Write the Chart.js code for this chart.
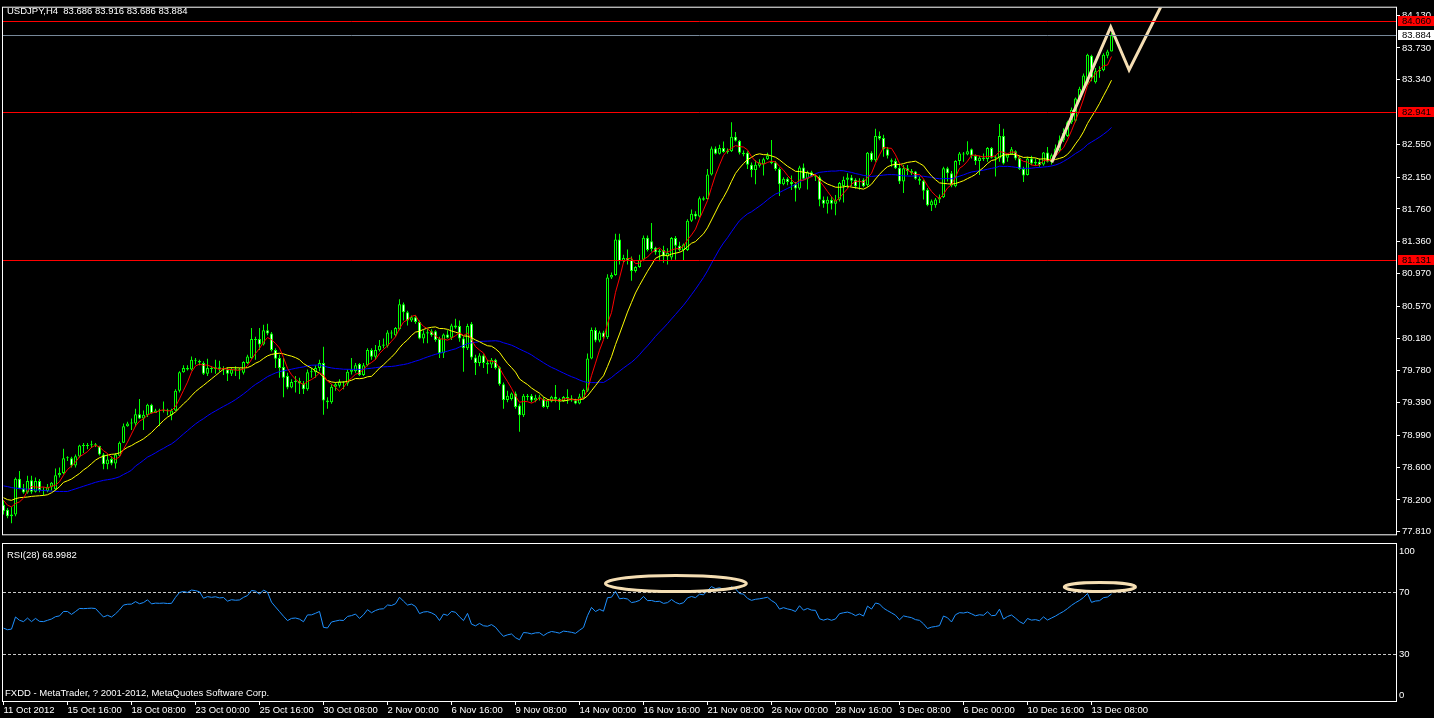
<!DOCTYPE html>
<html>
<head>
<meta charset="utf-8">
<title>USDJPY,H4</title>
<script src="https://cdn.jsdelivr.net/npm/chart.js@4.4.1/dist/chart.umd.min.js"></script>
<style>
  html, body { margin: 0; padding: 0; background: #000; overflow: hidden; }
  #wrap { position: relative; width: 1434px; height: 718px; }
  canvas { position: absolute; left: 0; }
  #priceChart { top: 0; }
  #rsiChart { top: 542px; }
</style>
</head>
<body>
<div id="wrap">
  <canvas id="priceChart" width="1434" height="542"></canvas>
  <canvas id="rsiChart" width="1434" height="176"></canvas>
</div>
<script>
// H4 bars, first bar = 11 Oct 2012 00:00
const opens = [
  78.14, 78.08, 78.00, 78.02, 78.46, 78.34, 78.29, 78.44, 78.30, 78.43,
  78.32, 78.31, 78.36, 78.33, 78.50, 78.53, 78.71, 78.71, 78.62, 78.73,
  78.865, 78.86, 78.87, 78.88, 78.86, 78.755, 78.635, 78.70, 78.645, 78.74,
  78.90, 79.10, 79.135, 79.135, 79.247, 79.195, 79.235, 79.363, 79.263, 79.295,
  79.29, 79.30, 79.235, 79.295, 79.535, 79.763, 79.815, 79.795, 79.915, 79.90,
  79.875, 79.743, 79.815, 79.80, 79.823, 79.80, 79.795, 79.743, 79.795, 79.785,
  79.755, 79.875, 79.935, 80.167, 80.167, 80.10, 80.275, 80.235, 80.035, 79.935,
  79.827, 79.715, 79.575, 79.643, 79.655, 79.625, 79.555, 79.763, 79.763, 79.815,
  79.875, 79.415, 79.395, 79.583, 79.595, 79.643, 79.623, 79.767, 79.775, 79.863,
  79.727, 79.847, 80.035, 79.95, 80.03, 80.087, 80.087, 80.247, 80.215, 80.287,
  80.595, 80.495, 80.395, 80.435, 80.375, 80.175, 80.235, 80.263, 80.263, 80.167,
  79.995, 80.223, 80.183, 80.335, 80.327, 80.175, 80.055, 80.355, 79.943, 79.875,
  79.967, 79.875, 79.855, 79.915, 79.823, 79.615, 79.423, 79.435, 79.503, 79.355,
  79.235, 79.475, 79.475, 79.415, 79.45, 79.435, 79.335, 79.403, 79.463, 79.435,
  79.41, 79.46, 79.44, 79.417, 79.38, 79.44, 79.535, 79.931, 80.28, 80.149,
  80.248, 80.189, 80.921, 80.953, 81.385, 81.119, 81.159, 81.139, 81.0, 81.048,
  81.139, 81.408, 81.365, 81.286, 81.23, 81.258, 81.179, 81.167, 81.404, 81.31,
  81.258, 81.258, 81.614, 81.701, 81.666, 81.892, 81.88, 82.181, 82.498, 82.434,
  82.505, 82.458, 82.466, 82.644, 82.593, 82.446, 82.446, 82.299, 82.236, 82.288,
  82.307, 82.367, 82.335, 82.327, 82.248, 82.062, 82.129, 82.09, 82.062, 82.01,
  82.268, 82.129, 82.208, 82.157, 82.149, 81.872, 81.824, 81.872, 81.824, 81.872,
  82.04, 82.116, 82.144, 82.116, 82.09, 82.116, 82.05, 82.446, 82.357, 82.651,
  82.627, 82.49, 82.357, 82.345, 82.265, 82.096, 82.257, 82.225, 82.217, 82.128,
  82.104, 81.995, 81.806, 81.806, 81.875, 81.903, 82.257, 82.197, 82.036, 82.345,
  82.438, 82.426, 82.49, 82.41, 82.345, 82.378, 82.37, 82.506, 82.386, 82.378,
  82.651, 82.386, 82.426, 82.466, 82.386, 82.249, 82.176, 82.378, 82.317, 82.337,
  82.305, 82.45, 82.337, 82.418, 82.478, 82.599, 82.651, 82.82, 82.84, 83.094,
  83.215, 83.303, 83.633, 83.311, 83.444, 83.456, 83.633, 83.686
];
const highs = [
  78.20, 78.10, 78.115, 78.475, 78.555, 78.395, 78.495, 78.495, 78.475, 78.455,
  78.355, 78.395, 78.42, 78.583, 78.595, 78.827, 78.735, 78.727, 78.755, 78.875,
  78.895, 78.895, 78.923, 78.895, 78.863, 78.775, 78.755, 78.735, 78.775, 78.915,
  79.135, 79.155, 79.195, 79.315, 79.435, 79.295, 79.375, 79.375, 79.315, 79.315,
  79.403, 79.315, 79.315, 79.555, 79.775, 79.847, 79.847, 79.955, 79.935, 79.915,
  79.895, 79.927, 79.835, 79.915, 79.903, 79.835, 79.823, 79.823, 79.835, 79.815,
  79.895, 79.975, 80.303, 80.195, 80.303, 80.343, 80.355, 80.255, 80.055, 79.975,
  79.935, 79.755, 79.675, 79.715, 79.695, 79.655, 79.795, 79.815, 79.847, 79.915,
  80.075, 79.455, 79.615, 79.635, 79.675, 79.655, 79.795, 79.935, 79.875, 79.875,
  79.875, 80.055, 80.055, 80.095, 80.155, 80.175, 80.275, 80.275, 80.315, 80.655,
  80.615, 80.515, 80.455, 80.455, 80.395, 80.275, 80.295, 80.287, 80.275, 80.195,
  80.235, 80.275, 80.355, 80.415, 80.395, 80.195, 80.355, 80.375, 79.975, 79.995,
  79.983, 79.915, 79.935, 79.927, 79.835, 79.635, 79.535, 79.515, 79.527, 79.375,
  79.495, 79.495, 79.495, 79.487, 79.487, 79.455, 79.435, 79.475, 79.607, 79.45,
  79.47, 79.555, 79.48, 79.436, 79.50, 79.56, 79.991, 80.308, 80.308, 80.268,
  80.27, 80.961, 80.981, 81.456, 81.456, 81.199, 81.265, 81.179, 81.06, 81.199,
  81.436, 81.436, 81.587, 81.298, 81.27, 81.31, 81.278, 81.416, 81.428, 81.357,
  81.337, 81.634, 81.753, 81.733, 81.911, 81.911, 82.248, 82.525, 82.525, 82.545,
  82.585, 82.498, 82.82, 82.70, 82.604, 82.474, 82.466, 82.327, 82.355, 82.367,
  82.387, 82.446, 82.604, 82.347, 82.268, 82.149, 82.149, 82.168, 82.09, 82.288,
  82.315, 82.228, 82.228, 82.17, 82.169, 81.911, 81.911, 81.911, 81.931, 82.09,
  82.156, 82.197, 82.176, 82.136, 82.136, 82.136, 82.458, 82.466, 82.74, 82.708,
  82.667, 82.518, 82.378, 82.378, 82.317, 82.297, 82.297, 82.249, 82.225, 82.156,
  82.116, 82.015, 81.875, 81.895, 81.935, 82.277, 82.277, 82.225, 82.357, 82.458,
  82.458, 82.587, 82.498, 82.426, 82.41, 82.438, 82.518, 82.518, 82.418, 82.80,
  82.74, 82.438, 82.518, 82.478, 82.41, 82.277, 82.398, 82.41, 82.378, 82.378,
  82.458, 82.518, 82.438, 82.547, 82.659, 82.748, 82.84, 83.001, 83.122, 83.255,
  83.416, 83.658, 83.645, 83.485, 83.505, 83.666, 83.706, 83.916
];
const lows = [
  78.02, 77.975, 77.915, 78.00, 78.33, 78.275, 78.275, 78.275, 78.29, 78.295,
  78.255, 78.295, 78.315, 78.315, 78.475, 78.515, 78.675, 78.595, 78.595, 78.715,
  78.775, 78.82, 78.835, 78.847, 78.743, 78.575, 78.575, 78.623, 78.583, 78.727,
  78.895, 79.095, 79.055, 79.095, 79.19, 79.055, 79.215, 79.255, 79.263, 79.103,
  79.27, 79.235, 79.175, 79.287, 79.515, 79.755, 79.783, 79.783, 79.855, 79.847,
  79.727, 79.715, 79.755, 79.743, 79.767, 79.727, 79.655, 79.715, 79.715, 79.675,
  79.735, 79.863, 79.927, 79.915, 80.035, 80.09, 80.215, 80.015, 79.815, 79.695,
  79.455, 79.555, 79.565, 79.515, 79.495, 79.495, 79.535, 79.695, 79.695, 79.775,
  79.243, 79.315, 79.375, 79.535, 79.575, 79.555, 79.595, 79.735, 79.755, 79.715,
  79.715, 79.835, 79.915, 79.915, 80.015, 80.055, 80.063, 80.175, 80.195, 80.275,
  80.395, 80.335, 80.375, 80.355, 80.165, 80.115, 80.115, 80.195, 80.135, 79.935,
  79.935, 80.175, 80.155, 80.295, 80.135, 79.767, 80.035, 79.915, 79.727, 79.835,
  79.815, 79.743, 79.815, 79.795, 79.595, 79.315, 79.395, 79.415, 79.315, 79.035,
  79.215, 79.415, 79.395, 79.395, 79.415, 79.327, 79.315, 79.395, 79.395, 79.30,
  79.40, 79.377, 79.40, 79.37, 79.37, 79.43, 79.52, 79.92, 80.129, 80.129,
  80.17, 80.169, 80.902, 80.941, 81.08, 81.10, 81.08, 80.882, 80.981, 81.04,
  81.119, 81.238, 81.238, 81.199, 81.12, 81.10, 81.08, 81.139, 81.139, 81.238,
  81.127, 81.246, 81.60, 81.634, 81.654, 81.86, 81.872, 82.169, 82.426, 82.426,
  82.446, 82.434, 82.458, 82.585, 82.426, 82.406, 82.248, 82.149, 82.062, 82.268,
  82.168, 82.36, 82.307, 82.228, 81.919, 82.05, 82.05, 81.991, 81.852, 81.991,
  82.117, 81.999, 82.15, 82.101, 81.793, 81.773, 81.705, 81.753, 81.682, 81.852,
  81.84, 82.015, 82.036, 82.007, 81.995, 82.024, 82.03, 82.337, 82.337, 82.599,
  82.398, 82.378, 82.277, 82.249, 82.064, 81.955, 82.176, 82.176, 82.116, 82.056,
  81.875, 81.794, 81.734, 81.774, 81.834, 81.895, 82.096, 82.024, 82.024, 82.297,
  82.337, 82.418, 82.378, 82.297, 82.176, 82.345, 82.337, 82.378, 82.156, 82.337,
  82.305, 82.337, 82.42, 82.357, 82.237, 82.088, 82.168, 82.297, 82.289, 82.277,
  82.289, 82.329, 82.305, 82.398, 82.458, 82.579, 82.639, 82.80, 82.82, 83.07,
  83.191, 83.283, 83.323, 83.295, 83.364, 83.444, 83.605, 83.686
];
const closes = [
  78.06, 78.00, 78.02, 78.46, 78.34, 78.29, 78.43, 78.30, 78.43, 78.32,
  78.31, 78.36, 78.41, 78.50, 78.53, 78.71, 78.71, 78.62, 78.735, 78.865,
  78.86, 78.87, 78.88, 78.87, 78.755, 78.635, 78.695, 78.645, 78.755, 78.90,
  79.10, 79.135, 79.14, 79.247, 79.195, 79.243, 79.363, 79.263, 79.295, 79.29,
  79.30, 79.29, 79.295, 79.535, 79.763, 79.815, 79.795, 79.915, 79.903, 79.88,
  79.743, 79.815, 79.80, 79.823, 79.80, 79.815, 79.743, 79.795, 79.785, 79.795,
  79.887, 79.955, 80.167, 80.155, 80.10, 80.275, 80.235, 80.035, 79.927, 79.815,
  79.695, 79.575, 79.643, 79.655, 79.625, 79.555, 79.763, 79.765, 79.815, 79.875,
  79.415, 79.395, 79.583, 79.615, 79.643, 79.635, 79.767, 79.795, 79.847, 79.727,
  79.847, 80.035, 79.95, 80.035, 80.087, 80.10, 80.247, 80.235, 80.303, 80.595,
  80.495, 80.395, 80.435, 80.375, 80.175, 80.235, 80.25, 80.215, 80.155, 79.995,
  80.223, 80.183, 80.335, 80.31, 80.175, 80.055, 80.327, 79.943, 79.875, 79.967,
  79.875, 79.855, 79.915, 79.815, 79.615, 79.423, 79.475, 79.503, 79.335, 79.235,
  79.475, 79.46, 79.415, 79.45, 79.455, 79.335, 79.415, 79.463, 79.435, 79.40,
  79.46, 79.44, 79.417, 79.38, 79.464, 79.543, 79.931, 80.28, 80.149, 80.248,
  80.189, 80.921, 80.953, 81.385, 81.119, 81.159, 81.13, 81.001, 81.048, 81.139,
  81.408, 81.258, 81.27, 81.23, 81.25, 81.179, 81.22, 81.404, 81.31, 81.258,
  81.325, 81.614, 81.701, 81.666, 81.892, 81.872, 82.181, 82.498, 82.434, 82.505,
  82.458, 82.474, 82.644, 82.593, 82.446, 82.43, 82.299, 82.236, 82.299, 82.327,
  82.367, 82.414, 82.319, 82.248, 82.062, 82.129, 82.09, 82.062, 82.01, 82.268,
  82.129, 82.208, 82.157, 82.149, 81.872, 81.824, 81.872, 81.824, 81.872, 82.078,
  82.116, 82.144, 82.104, 82.036, 82.10, 82.036, 82.446, 82.357, 82.651, 82.619,
  82.49, 82.41, 82.337, 82.257, 82.096, 82.257, 82.225, 82.197, 82.128, 82.104,
  81.983, 81.806, 81.854, 81.875, 81.903, 82.257, 82.197, 82.048, 82.345, 82.438,
  82.426, 82.466, 82.41, 82.345, 82.386, 82.37, 82.506, 82.386, 82.398, 82.651,
  82.317, 82.426, 82.49, 82.378, 82.249, 82.168, 82.378, 82.317, 82.337, 82.297,
  82.45, 82.337, 82.418, 82.498, 82.599, 82.692, 82.82, 82.973, 83.11, 83.231,
  83.392, 83.645, 83.364, 83.444, 83.464, 83.645, 83.686, 83.884
];

// one label every 16 bars
const dateLabels = ['11 Oct 2012', '15 Oct 16:00', '18 Oct 08:00', '23 Oct 00:00', '25 Oct 16:00',
  '30 Oct 08:00', '2 Nov 00:00', '6 Nov 16:00', '9 Nov 08:00', '14 Nov 00:00', '16 Nov 16:00',
  '21 Nov 08:00', '26 Nov 00:00', '28 Nov 16:00', '3 Dec 08:00', '6 Dec 00:00', '10 Dec 16:00', '13 Dec 08:00'];
const priceTicks = [84.130, 83.730, 83.340, 82.550, 82.150, 81.760, 81.360, 80.970,
  80.570, 80.180, 79.780, 79.390, 78.990, 78.600, 78.200, 77.810];
const redLevels = [84.060, 82.941, 81.131];
const lastPrice = 83.884;
const rsiTicks = [100, 70, 30, 0];
const rsiLevels = [70, 30];

// MA values on the first bars (their history is off the chart)
const ma5Start = [78.195, 78.135, 78.115, 78.155];
const ma13Start = [78.227, 78.203, 78.195, 78.215, 78.227, 78.231, 78.235, 78.243, 78.247, 78.251, 78.255, 78.263];
const ma34Start = [78.371, 78.363, 78.351, 78.343, 78.339, 78.335, 78.331, 78.327, 78.323, 78.319,
  78.315, 78.311, 78.307, 78.303, 78.303, 78.303, 78.303, 78.319, 78.335, 78.351,
  78.367, 78.383, 78.399, 78.415, 78.427, 78.439, 78.447, 78.455, 78.467, 78.483,
  78.511, 78.535, 78.563];
// RSI(28) averages before the first bar
const rsiStartGain = 0.0465;
const rsiStartLoss = 0.053;

// drawn objects
const zigzagBars = [262.05, 276.8, 281.4, 290.2];
const zigzagPrices = [82.33, 83.986, 83.46, 84.318];
const ellipseBars = [168.1, 274.1];
const ellipseRsi = [75.7, 73.4];
const ellipseBarRadius = [17.6, 8.9];
const ellipseRsiRadius = [5.2, 2.9];

const FONT = '"Liberation Sans", Arial, sans-serif';
const WHEAT = '#f5deb3';
Chart.defaults.font.family = FONT;
Chart.defaults.font.size = 9.5;

function sma(period, start) {
  return closes.map((c, i) => {
    if (i < period - 1) return start[i];
    let s = 0;
    for (let k = i - period + 1; k <= i; k++) s += closes[k];
    return s / period;
  });
}

function rsi(period) {
  let g = rsiStartGain, l = rsiStartLoss;
  return closes.map((c, i) => {
    if (i > 0) {
      const d = c - closes[i - 1];
      g = (g * (period - 1) + Math.max(d, 0)) / period;
      l = (l * (period - 1) + Math.max(-d, 0)) / period;
    }
    return 100 * g / (g + l);
  });
}

const xy = arr => arr.map((v, i) => ({x: i, y: v}));
const dateTickBars = dateLabels.map((_, k) => k * 16);
const last = closes.length - 1;
const header = 'USDJPY,H4  ' + [opens[last], highs[last], lows[last], closes[last]].map(v => v.toFixed(3)).join(' ');

// 4 px per bar, bar centres on half pixels
const xRange = {type: 'linear', min: -0.125, max: 348.125, offset: false};

const priceOverlay = {
  id: 'priceOverlay',
  afterDatasetsDraw(chart) {
    const {ctx, chartArea: a, scales: {y}} = chart;
    ctx.save();
    ctx.lineWidth = 1;
    ctx.strokeStyle = '#778899';
    let py = Math.round(y.getPixelForValue(lastPrice)) + 0.5;
    ctx.beginPath(); ctx.moveTo(a.left, py); ctx.lineTo(a.right, py); ctx.stroke();
    ctx.strokeStyle = '#ff0000';
    redLevels.forEach(v => {
      const p = Math.round(y.getPixelForValue(v)) + 0.5;
      ctx.beginPath(); ctx.moveTo(a.left, p); ctx.lineTo(a.right, p); ctx.stroke();
    });
    ctx.restore();
  },
  afterDraw(chart) {
    const {ctx, chartArea: a, scales: {y}} = chart;
    ctx.save();
    ctx.font = '9.5px ' + FONT;
    ctx.textBaseline = 'middle';
    const box = (v, bg) => {
      const p = Math.round(y.getPixelForValue(v));
      ctx.fillStyle = bg;
      ctx.fillRect(a.right + 2, p - 5, 36, 10);
      ctx.fillStyle = '#000';
      ctx.fillText(v.toFixed(3), a.right + 6, p + 0.5);
    };
    redLevels.forEach(v => box(v, '#ff0000'));
    box(lastPrice, '#ffffff');
    ctx.strokeStyle = '#ffffff';
    ctx.lineWidth = 1;
    ctx.strokeRect(a.left - 0.5, a.top - 0.5, a.right - a.left + 1, a.bottom - a.top + 1);
    ctx.fillStyle = '#ffffff';
    ctx.fillText(header, 7, 11);
    ctx.restore();
  }
};

new Chart(document.getElementById('priceChart'), {
  type: 'bar',
  data: {
    datasets: [
      {type: 'line', data: zigzagBars.map((b, k) => ({x: b, y: zigzagPrices[k]})),
        borderColor: WHEAT, borderWidth: 3, pointRadius: 0, order: 0},
      {type: 'line', data: xy(sma(5, ma5Start)), borderColor: '#ff0000', borderWidth: 1, pointRadius: 0, order: 1},
      {type: 'line', data: xy(sma(13, ma13Start)), borderColor: '#ffff00', borderWidth: 1, pointRadius: 0, order: 2},
      {type: 'line', data: xy(sma(34, ma34Start)), borderColor: '#0000ff', borderWidth: 1, pointRadius: 0, order: 3},
      {type: 'bar', data: closes.map((c, i) => ({x: i, y: [opens[i], c]})),
        backgroundColor: closes.map((c, i) => c >= opens[i] ? '#000000' : '#ffffff'),
        borderColor: '#00ff00', borderWidth: 1, borderSkipped: false, barThickness: 3, maxBarThickness: 3,
        grouped: false, minBarLength: 1, inflateAmount: 0, order: 4},
      {type: 'bar', data: lows.map((l, i) => ({x: i, y: [l, highs[i]]})),
        backgroundColor: '#00ff00', borderWidth: 0, barThickness: 1, maxBarThickness: 1,
        grouped: false, inflateAmount: 0, order: 5}
    ]
  },
  options: {
    responsive: false,
    devicePixelRatio: 1,
    animation: false,
    events: [],
    layout: {padding: {left: 3, top: 3, right: 0, bottom: 1}},
    plugins: {legend: {display: false}, tooltip: {enabled: false}},
    scales: {
      x: {...xRange, display: false, grid: {offset: false}},
      y: {
        position: 'right', min: 77.779, max: 84.222,
        afterBuildTicks: s => { s.ticks = priceTicks.map(v => ({value: v})); },
        afterFit: s => { s.width = 38; },
        grid: {drawOnChartArea: false, drawTicks: true, tickLength: 4, color: '#ffffff'},
        border: {display: false},
        ticks: {color: '#ffffff', padding: 2, autoSkip: false, callback: v => v.toFixed(3)}
      }
    }
  },
  plugins: [priceOverlay]
});

const rsiOverlay = {
  id: 'rsiOverlay',
  beforeDatasetsDraw(chart) {
    const {ctx, chartArea: a, scales: {y}} = chart;
    ctx.save();
    ctx.strokeStyle = '#c8c8c8';
    ctx.lineWidth = 1;
    ctx.setLineDash([3, 2]);
    rsiLevels.forEach(v => {
      const p = Math.round(y.getPixelForValue(v)) + 0.5;
      ctx.beginPath(); ctx.moveTo(a.left, p); ctx.lineTo(a.right, p); ctx.stroke();
    });
    ctx.restore();
  },
  afterDraw(chart) {
    const {ctx, chartArea: a, scales: {x, y}} = chart;
    ctx.save();
    ctx.strokeStyle = WHEAT;
    ctx.lineWidth = 3;
    ellipseBars.forEach((b, k) => {
      const cx = x.getPixelForValue(b), cy = y.getPixelForValue(ellipseRsi[k]);
      const rx = x.getPixelForValue(b + ellipseBarRadius[k]) - cx;
      const ry = cy - y.getPixelForValue(ellipseRsi[k] + ellipseRsiRadius[k]);
      ctx.beginPath(); ctx.ellipse(cx, cy, rx, ry, 0, 0, Math.PI * 2); ctx.stroke();
    });
    ctx.strokeStyle = '#ffffff';
    ctx.lineWidth = 1;
    ctx.strokeRect(a.left - 0.5, a.top - 0.5, a.right - a.left + 1, a.bottom - a.top + 1);
    ctx.font = '9.5px ' + FONT;
    ctx.fillStyle = '#ffffff';
    const top = Math.max(...rsiTicks), bottom = Math.min(...rsiTicks);
    rsiTicks.forEach(v => {
      const p = y.getPixelForValue(v);
      if (v === top) { ctx.textBaseline = 'top'; ctx.fillText(String(v), a.right + 3, p + 1); }
      else if (v === bottom) { ctx.textBaseline = 'alphabetic'; ctx.fillText(String(v), a.right + 3, p - 2.5); }
      else { ctx.textBaseline = 'middle'; ctx.fillText(String(v), a.right + 3, p); }
    });
    ctx.textBaseline = 'middle';
    ctx.fillText('RSI(28) 68.9982', 7, 13);
    ctx.fillText('FXDD - MetaTrader, ? 2001-2012, MetaQuotes Software Corp.', 5, 151.5);
    ctx.restore();
  }
};

new Chart(document.getElementById('rsiChart'), {
  type: 'line',
  data: {
    datasets: [
      {data: xy(rsi(28)), borderColor: '#1e90ff', borderWidth: 1, pointRadius: 0}
    ]
  },
  options: {
    responsive: false,
    devicePixelRatio: 1,
    animation: false,
    events: [],
    layout: {padding: {left: 3, top: 2, right: 0, bottom: 0}},
    plugins: {legend: {display: false}, tooltip: {enabled: false}},
    scales: {
      x: {
        ...xRange,
        afterBuildTicks: s => { s.ticks = dateTickBars.map(v => ({value: v})); },
        afterFit: s => { s.height = 17; },
        grid: {drawOnChartArea: false, drawTicks: true, tickLength: 4, color: '#ffffff'},
        border: {display: false},
        ticks: {color: '#ffffff', align: 'start', padding: 0, maxRotation: 0, autoSkip: false,
          callback: (v, k) => dateLabels[k]}
      },
      y: {
        position: 'right', min: -0.5, max: 101.3,
        afterFit: s => { s.width = 38; },
        grid: {display: false},
        border: {display: false},
        ticks: {display: false}
      }
    }
  },
  plugins: [rsiOverlay]
});
</script>
</body>
</html>
